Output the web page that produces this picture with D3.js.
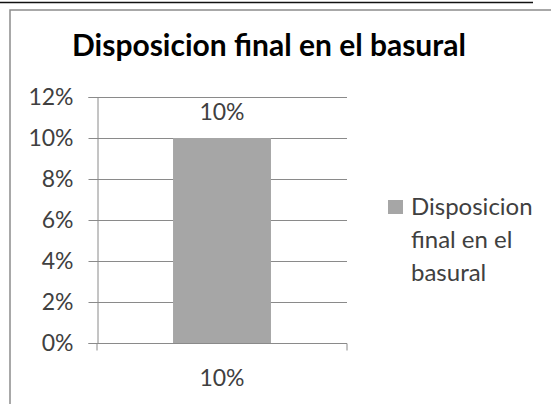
<!DOCTYPE html>
<html>
<head>
<meta charset="utf-8">
<script src="https://cdn.jsdelivr.net/npm/d3@7"></script>
<style>
  html, body { margin: 0; padding: 0; background: #fff; }
  svg { display: block; }
</style>
</head>
<body>
<svg id="chart" width="551" height="404"></svg>
<script>
const title = "Disposicion final en el basural";
const categories = ["10%"];
const seriesName = "Disposicion final en el basural";
const seriesValues = [0.10];
const yTickValues = [0, 0.02, 0.04, 0.06, 0.08, 0.10, 0.12];
const legendLines = ["Disposicion", "final en el", "basural"];

const FONT = "Lato, 'Open Sans', sans-serif";
const svg = d3.select("#chart");

// page rule line and chart frame
svg.append("line").attr("x1", 0).attr("x2", 533).attr("y1", 2.5).attr("y2", 2.5)
  .attr("stroke", "#111").attr("stroke-width", 1.5);
svg.append("rect").attr("x", 10).attr("y", 10).attr("width", 560).attr("height", 420)
  .attr("fill", "#fff").attr("stroke", "#8c8c8c").attr("stroke-width", 1.5);

const plot = { left: 97, right: 347, top: 97, bottom: 343 };

const y = d3.scaleLinear().domain([0, 0.12]).range([plot.bottom, plot.top]);
const x = d3.scaleBand().domain(categories).range([plot.left, plot.right]).padding(0.437);

// gridlines
svg.append("g").selectAll("line").data(yTickValues.filter(d => d > 0)).join("line")
  .attr("x1", plot.left).attr("x2", plot.right)
  .attr("y1", d => Math.round(y(d)) + 0.5).attr("y2", d => Math.round(y(d)) + 0.5)
  .attr("stroke", "#8a8a8a").attr("stroke-width", 1);

// bars
svg.append("g").selectAll("rect").data(seriesValues).join("rect")
  .attr("x", (d, i) => x(categories[i]))
  .attr("y", d => y(d))
  .attr("width", x.bandwidth())
  .attr("height", d => y(0) - y(d))
  .attr("fill", "#a6a6a6");

// y axis
const yAxis = svg.append("g").attr("transform", `translate(${plot.left + 0.5},0)`)
  .call(d3.axisLeft(y).tickValues(yTickValues).tickFormat(d3.format(".0%")).tickSize(9).tickPadding(15));
yAxis.select(".domain").attr("stroke", "#8a8a8a");
yAxis.selectAll(".tick line").attr("stroke", "#8a8a8a");
yAxis.selectAll(".tick text").attr("fill", "#404040").style("font-family", FONT).style("font-size", "23px");

// x axis
const xAxis = svg.append("g").attr("transform", `translate(0,${Math.round(plot.bottom) + 0.5})`)
  .call(d3.axisBottom(x).tickSize(0).tickPadding(26));
xAxis.select(".domain").attr("stroke", "#8a8a8a").attr("d", `M${plot.left},7V0H${plot.right}V7`);
xAxis.selectAll(".tick text").attr("fill", "#404040").style("font-family", FONT).style("font-size", "23px");

// data labels
svg.append("g").selectAll("text").data(seriesValues).join("text")
  .attr("x", (d, i) => x(categories[i]) + x.bandwidth() / 2)
  .attr("y", d => y(d) - 18)
  .attr("text-anchor", "middle")
  .attr("fill", "#404040").style("font-family", FONT).style("font-size", "23px")
  .text(d => d3.format(".0%")(d));

// title
svg.append("text").attr("x", 269).attr("y", 56).attr("text-anchor", "middle")
  .attr("fill", "#000").style("font-family", FONT).style("font-weight", "bold").style("font-size", "30px")
  .text(title);

// legend
const lg = svg.append("g");
lg.append("rect").attr("x", 388).attr("y", 200).attr("width", 15).attr("height", 14).attr("fill", "#a6a6a6");
lg.selectAll("text").data(legendLines).join("text")
  .attr("x", 411).attr("y", (d, i) => 215 + i * 33)
  .attr("fill", "#404040").style("font-family", FONT).style("font-size", "24px")
  .text(d => d);
</script>
</body>
</html>
